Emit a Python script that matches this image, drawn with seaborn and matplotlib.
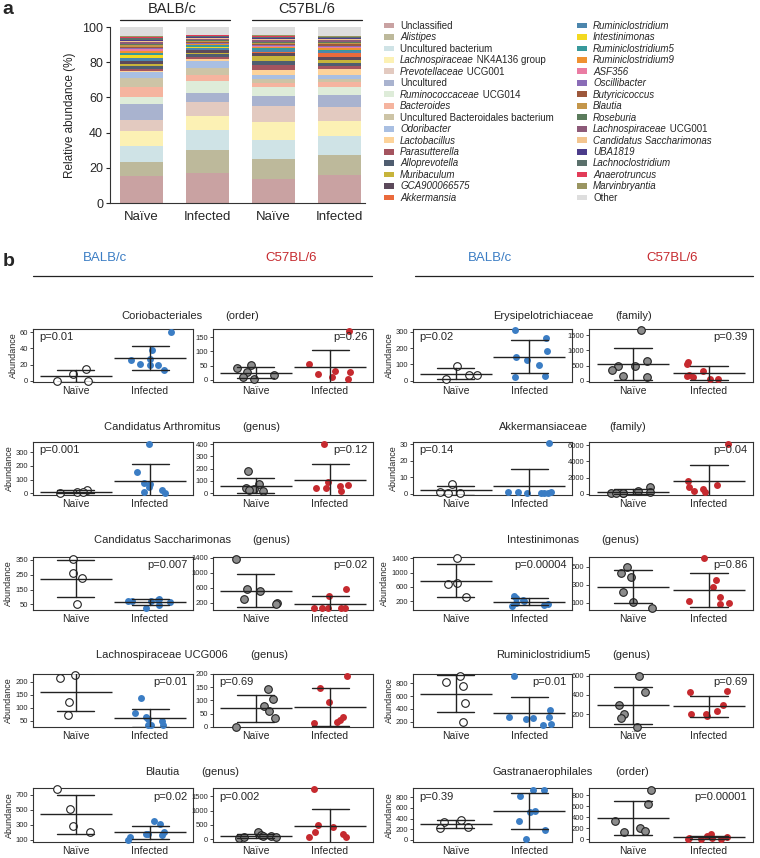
"""
Microbiota composition (a) and per-taxon abundance dot plots (b).
"""
import numpy as np
import pandas as pd
import matplotlib
matplotlib.use('Agg')
import matplotlib.pyplot as plt
from matplotlib.lines import Line2D
from matplotlib.patches import Patch
from matplotlib.text import Annotation
import seaborn as sns

sns.set_theme(style='white')
plt.rcParams.update({
    'font.family': ['Liberation Sans', 'DejaVu Sans'],
    'axes.edgecolor': '#333333',
    'axes.linewidth': 0.8,
})
np.random.seed(7)

# ---------------- panel a data ----------------
SAMPLES = ['BALB/c Naïve', 'BALB/c Infected', 'C57BL/6 Naïve', 'C57BL/6 Infected']
XLABELS_A = ['Naïve', 'Infected', 'Naïve', 'Infected']

TAXA = [
    'Unclassified', 'Alistipes', 'Uncultured bacterium', 'Lachnospiraceae NK4A136 group',
    'Prevotellaceae UCG001', 'Uncultured', 'Ruminococcaceae UCG014', 'Bacteroides',
    'Uncultured Bacteroidales bacterium', 'Odoribacter', 'Lactobacillus', 'Parasutterella',
    'Alloprevotella', 'Muribaculum', 'GCA900066575', 'Akkermansia',
    'Ruminiclostridium', 'Intestinimonas', 'Ruminiclostridium5', 'Ruminiclostridium9',
    'ASF356', 'Oscillibacter', 'Butyricicoccus', 'Blautia', 'Roseburia',
    'Lachnospiraceae UCG001', 'Candidatus Saccharimonas', 'UBA1819', 'Lachnoclostridium',
    'Anaerotruncus', 'Marvinbryantia', 'Other',
]
balb_naive_pct = [15.6, 7.8, 9.1, 8.5, 6.3, 8.9, 4.0, 5.7, 5.1, 3.2, 0.8, 1.2, 1.5, 1.5, 1.3,
                  0.3, 1.5, 2.0, 1.2, 0.8, 1.0, 0.7, 0.6, 1.0, 0.8, 1.0, 0.8, 0.5, 1.0, 0.6,
                  0.6, 5.1]
balb_inf_pct = [17.3, 12.9, 11.4, 8.0, 7.8, 5.1, 7.0, 3.4, 3.8, 4.2, 0.9, 1.0, 1.8, 0.8, 1.5,
                0.2, 1.2, 0.4, 1.2, 0.3, 0.3, 0.6, 0.4, 0.5, 0.6, 0.8, 0.3, 0.5, 0.8, 0.2,
                0.3, 4.5]
c57_naive_pct = [13.5, 11.4, 11.0, 9.9, 9.1, 6.1, 4.9, 2.3, 2.3, 2.5, 2.5, 2.8, 2.5, 2.5, 2.0,
                 0.5, 1.0, 0.4, 0.8, 0.8, 0.4, 0.6, 0.5, 0.7, 0.6, 0.8, 0.6, 0.8, 0.6, 0.4,
                 0.5, 4.7]
c57_inf_pct = [15.9, 11.4, 10.8, 8.7, 7.6, 7.0, 4.4, 2.7, 1.9, 2.5, 3.2, 1.5, 2.0, 1.8, 1.5,
               2.5, 0.8, 0.3, 0.6, 1.2, 0.5, 0.6, 0.8, 0.8, 0.6, 1.0, 0.4, 0.7, 0.6, 0.3,
               0.5, 4.9]

# ---------------- panel b data ----------------
GROUPS = ['Naïve', 'Infected']
coriobacteriales = {
    'BALB/c': {'Naïve': [0, 0, 9, 15], 'Infected': [60, 38, 27, 26, 21, 19, 20, 13]},
    'C57BL/6': {'Naïve': [52, 43, 27, 18, 12, 2], 'Infected': [171, 55, 33, 28, 22, 10, 2]},
}
arthromitus = {
    'BALB/c': {'Naïve': [0, 8, 25, 12], 'Infected': [363, 158, 66, 78, 48, 7, 0, 22]},
    'C57BL/6': {'Naïve': [180, 70, 45, 35, 25, 15], 'Infected': [400, 94, 55, 45, 65, 45, 20]},
}
saccharimonas = {
    'BALB/c': {'Naïve': [355, 265, 225, 52], 'Infected': [28, 75, 72, 85, 70, 45, 65, 80]},
    'C57BL/6': {'Naïve': [1360, 560, 500, 310, 200, 165],
                'Infected': [560, 370, 70, 60, 55, 65, 50]},
}
lachno_ucg006 = {
    'BALB/c': {'Naïve': [225, 212, 123, 73], 'Infected': [138, 78, 65, 55, 48, 33, 33, 33]},
    'C57BL/6': {'Naïve': [143, 105, 78, 60, 32, 0], 'Infected': [192, 148, 92, 36, 25, 15, 18]},
}
blautia = {
    'BALB/c': {'Naïve': [776, 515, 205, 280], 'Infected': [353, 310, 210, 165, 100, 175, 185, 140]},
    'C57BL/6': {'Naïve': [240, 150, 120, 70, 60, 90, 125],
                'Infected': [1750, 500, 415, 265, 185, 90, 70]},
}
erysipelotrichiaceae = {
    'BALB/c': {'Naïve': [92, 38, 35, 8], 'Infected': [310, 262, 183, 144, 130, 98, 29, 25]},
    'C57BL/6': {'Naïve': [1660, 660, 470, 480, 360, 160, 110],
                'Infected': [605, 545, 330, 190, 130, 150, 55, 45]},
}
akkermansiaceae = {
    'BALB/c': {'Naïve': [6, 1, 0.5, 0.5], 'Infected': [31, 1, 1, 1, 0.5, 0.5, 0.3, 0.2]},
    'C57BL/6': {'Naïve': [870, 300, 180, 120, 100, 60, 40],
                'Infected': [6100, 1580, 1080, 870, 550, 250, 330]},
}
intestinimonas = {
    'BALB/c': {'Naïve': [1420, 700, 670, 320], 'Infected': [330, 290, 230, 200, 150, 110, 80, 50]},
    'C57BL/6': {'Naïve': [500, 435, 385, 222, 105, 40], 'Infected': [600, 350, 280, 160, 125, 90, 95]},
}
ruminiclostridium5 = {
    'BALB/c': {'Naïve': [915, 825, 760, 485, 200],
               'Infected': [920, 390, 270, 240, 255, 280, 170, 150]},
    'C57BL/6': {'Naïve': [597, 430, 290, 200, 155, 70], 'Infected': [430, 440, 180, 200, 200, 235, 290]},
}
gastranaerophilales = {
    'BALB/c': {'Naïve': [375, 340, 237, 220], 'Infected': [935, 935, 830, 530, 550, 355, 190, 20]},
    'C57BL/6': {'Naïve': [895, 635, 330, 200, 140, 155], 'Infected': [100, 60, 45, 30, 20, 10, 5, 5]},
}

TAXON_NAMES = ['Coriobacteriales', 'Candidatus Arthromitus', 'Candidatus Saccharimonas',
               'Lachnospiraceae UCG006', 'Blautia', 'Erysipelotrichiaceae', 'Akkermansiaceae',
               'Intestinimonas', 'Ruminiclostridium5', 'Gastranaerophilales']
TAXON_RANKS = ['(order)', '(genus)', '(genus)', '(genus)', '(genus)',
               '(family)', '(family)', '(genus)', '(genus)', '(order)']
TAXON_DATA = [coriobacteriales, arthromitus, saccharimonas, lachno_ucg006, blautia,
              erysipelotrichiaceae, akkermansiaceae, intestinimonas, ruminiclostridium5,
              gastranaerophilales]
P_BALB = ['p=0.01', 'p=0.001', 'p=0.007', 'p=0.01', 'p=0.02',
          'p=0.02', 'p=0.14', 'p=0.00004', 'p=0.01', 'p=0.39']
P_C57 = ['p=0.26', 'p=0.12', 'p=0.02', 'p=0.69', 'p=0.002',
         'p=0.39', 'p=0.04', 'p=0.86', 'p=0.69', 'p=0.00001']
YTICKS_BALB = [[0, 20, 40, 60], [0, 100, 200, 300], [50, 150, 250, 350], [50, 100, 150, 200],
               [100, 300, 500, 700], [0, 100, 200, 300], [0, 10, 20, 30],
               [200, 600, 1000, 1400], [200, 400, 600, 800], [0, 200, 400, 600, 800]]
YTICKS_C57 = [[0, 50, 100, 150], [0, 100, 200, 300, 400], [200, 600, 1000, 1400],
              [0, 50, 100, 150, 200], [0, 500, 1000, 1500], [0, 500, 1000, 1500],
              [0, 2000, 4000, 6000], [100, 300, 500], [200, 400, 600], [0, 200, 400, 600, 800]]

# ---------------- styles / layout ----------------
TAXON_COLORS = [
    '#c9a2a2', '#bdb99b', '#cfe3e6', '#fcf1b4', '#e3cac0', '#a9b3cf', '#deecd9', '#f5b49f',
    '#cdc4a6', '#a9bfe2', '#fdd39a', '#a4545f', '#4f5d70', '#c7b43b', '#5c4a5b', '#ea6a3c',
    '#4c86ad', '#f3d920', '#38999b', '#ef9131', '#ea7ca3', '#8a6cb7', '#9d573b', '#c4964a',
    '#5b7b5c', '#8d5a79', '#f3c58f', '#4b3c8a', '#5a706b', '#e23b58', '#9a9561', '#dedede',
]
UPRIGHT = {'Unclassified', 'Uncultured bacterium', 'Uncultured',
           'Uncultured Bacteroidales bacterium', 'Other'}
PARTIAL_ITALIC = {'Lachnospiraceae NK4A136 group', 'Prevotellaceae UCG001',
                  'Ruminococcaceae UCG014', 'Lachnospiraceae UCG001'}
BLUE, RED, GRAY = '#3b7dc4', '#c62a2f', '#8c8c8c'
POINT_STYLE = {
    'BALB/c': {'Naïve': dict(color='white', edgecolor='#222222', linewidth=0.8, size=5.5),
               'Infected': dict(color=BLUE, linewidth=0, size=5)},
    'C57BL/6': {'Naïve': dict(color=GRAY, edgecolor='#222222', linewidth=0.8, size=5.5),
                'Infected': dict(color=RED, linewidth=0, size=5)},
}
P_LEFT_BALB = {0, 1, 5, 6, 9}
P_LEFT_C57 = {3, 4}
YLIMS = {
    ('BALB/c', 0): (-1.5, 64), ('C57BL/6', 0): (-7, 178),
    ('BALB/c', 1): (-12, 375), ('C57BL/6', 1): (-16, 418),
    ('BALB/c', 2): (12, 370), ('C57BL/6', 2): (5, 1420),
    ('BALB/c', 3): (26, 229), ('C57BL/6', 3): (-1, 200),
    ('BALB/c', 4): (73, 793), ('C57BL/6', 4): (-90, 1780),
    ('BALB/c', 5): (-8, 318), ('C57BL/6', 5): (-40, 1700),
    ('BALB/c', 6): (-0.8, 31.4), ('C57BL/6', 6): (-150, 6400),
    ('BALB/c', 7): (-50, 1440), ('C57BL/6', 7): (20, 610),
    ('BALB/c', 8): (117, 945), ('C57BL/6', 8): (65, 618),
    ('BALB/c', 9): (-40, 975), ('C57BL/6', 9): (-50, 930),
}

W, H = 760, 858


def rect(l, t, r, b):
    return [l / W, 1 - b / H, (r - l) / W, (b - t) / H]


def fx(x):
    return x / W


def fy(y):
    return 1 - y / H


def hline(fig, x0, x1, y):
    fig.add_artist(Line2D([fx(x0), fx(x1)], [fy(y), fy(y)], color='#222222', lw=0.9,
                          transform=fig.transFigure))


fig = plt.figure(figsize=(W / 100, H / 100), dpi=100)

# ================= panel a =================
ax = fig.add_axes(rect(110, 27, 365, 203))
bottom = np.zeros(len(SAMPLES))
for i, taxon in enumerate(TAXA):
    vals = np.array([balb_naive_pct[i], balb_inf_pct[i], c57_naive_pct[i], c57_inf_pct[i]])
    sns.barplot(x=SAMPLES, y=vals, bottom=bottom, color=TAXON_COLORS[i], saturation=1,
                width=0.65, linewidth=0, ax=ax)
    bottom += vals
ax.set_xlim(-0.47, 3.38)
ax.set_ylim(0, 100)
ax.set_yticks(range(0, 101, 20))
ax.set_xticks(range(4))
ax.set_xticklabels(XLABELS_A, fontsize=9.5)
ax.tick_params(axis='y', labelsize=9, length=3, width=0.8, left=True, pad=2)
ax.tick_params(axis='x', length=0, pad=6)
ax.set_ylabel('Relative abundance (%)', fontsize=8.5, labelpad=4)
ax.set_xlabel('')
sns.despine(ax=ax)

fig.text(fx(172), fy(9), 'BALB/c', ha='center', va='center', fontsize=10.5)
fig.text(fx(307), fy(9), 'C57BL/6', ha='center', va='center', fontsize=10.5)
hline(fig, 120, 230, 19.5)
hline(fig, 252, 362, 19.5)
fig.text(fx(2), fy(10), 'a', ha='left', va='center', fontsize=14, fontweight='bold')

# legend: italic genus names, partial italic for "<family> <group>" labels
handles = [Patch(facecolor=c, edgecolor='none') for c in TAXON_COLORS]
for k, x0 in enumerate([384, 577]):
    names = TAXA[16 * k:16 * (k + 1)]
    shown = [n.split(' ', 1)[0] if n in PARTIAL_ITALIC else n for n in names]
    leg = fig.legend(handles[16 * k:16 * (k + 1)], shown, loc='upper left',
                     bbox_to_anchor=(fx(x0), fy(21)), frameon=False, fontsize=7,
                     handlelength=1.05, handleheight=0.55, handletextpad=0.6,
                     labelspacing=0.15, borderpad=0, borderaxespad=0)
    for txt, name in zip(leg.get_texts(), names):
        if name in UPRIGHT:
            continue
        txt.set_style('italic')
        if name in PARTIAL_ITALIC:
            rest = name.split(' ', 1)[1]
            ann = Annotation(' ' + rest, xy=(1, 0), xycoords=txt, ha='left', va='bottom',
                             fontsize=7, annotation_clip=False)
            ann.set_zorder(10)
            fig.add_artist(ann)

# ================= panel b =================
fig.text(fx(3), fy(262), 'b', ha='left', va='center', fontsize=14, fontweight='bold')
for x_balb, x_c57, x0, x1 in [(105, 291, 33, 372), (490, 672, 415, 753)]:
    fig.text(fx(x_balb), fy(258), 'BALB/c', color=BLUE, ha='center', va='center', fontsize=9.5)
    fig.text(fx(x_c57), fy(258), 'C57BL/6', color=RED, ha='center', va='center', fontsize=9.5)
    hline(fig, x0, x1, 276)

ROWS = [(329, 382), (442, 495), (557, 610), (674, 727), (788, 842)]
COLS = [(33, 193), (213, 373), (413, 572), (589, 753)]
TITLE_Y = [316, 427, 540, 655, 772]
TITLE_X = [162, 543]

for t, name in enumerate(TAXON_NAMES):
    block, row = divmod(t, 5)
    top, bot = ROWS[row]
    name_txt = fig.text(fx(TITLE_X[block]), fy(TITLE_Y[row]), name, ha='center', va='center',
                        fontsize=8)
    for s, strain in enumerate(['BALB/c', 'C57BL/6']):
        l, r = COLS[2 * block + s]
        ax = fig.add_axes(rect(l, top, r, bot))
        d = TAXON_DATA[t][strain]
        df = pd.DataFrame([(g, v) for g in GROUPS for v in d[g]], columns=['group', 'abundance'])
        for g in GROUPS:
            sns.stripplot(data=df[df['group'] == g], x='group', y='abundance', order=GROUPS,
                          jitter=0.3, clip_on=False, zorder=3, ax=ax, **POINT_STYLE[strain][g])
        sns.pointplot(data=df, x='group', y='abundance', order=GROUPS, errorbar='sd',
                      capsize=0.5, markers='_', linestyles='none', color='#222222',
                      markersize=52, markeredgewidth=1.0, err_kws={'linewidth': 1.0},
                      zorder=4, ax=ax)
        ticks = (YTICKS_BALB if s == 0 else YTICKS_C57)[t]
        ax.set_ylim(*YLIMS[(strain, t)])
        ax.set_yticks(ticks)
        ax.set_xlim(-0.58, 1.58)
        ax.set_xticks([0, 1])
        ax.set_xticklabels(GROUPS, fontsize=7.5)
        ax.tick_params(axis='y', labelsize=5.5, length=2, width=0.6, left=True, pad=1.5)
        ax.tick_params(axis='x', length=0, pad=3)
        ax.set_xlabel('')
        ax.set_ylabel('Abundance' if s == 0 else '', fontsize=6.5, labelpad=1.5)
        for sp in ax.spines.values():
            sp.set_linewidth(0.8)
            sp.set_color('#333333')
        ptxt = (P_BALB if s == 0 else P_C57)[t]
        left = t in (P_LEFT_BALB if s == 0 else P_LEFT_C57)
        ax.text(0.04 if left else 0.965, 0.84, ptxt, transform=ax.transAxes,
                ha='left' if left else 'right', va='center', fontsize=8)
    ax.annotate(TAXON_RANKS[t], xy=(1, 0.5), xycoords=name_txt, xytext=(16, 0),
                textcoords='offset points', ha='left', va='center', fontsize=8,
                annotation_clip=False)

fig.savefig('out.png', dpi=100)
